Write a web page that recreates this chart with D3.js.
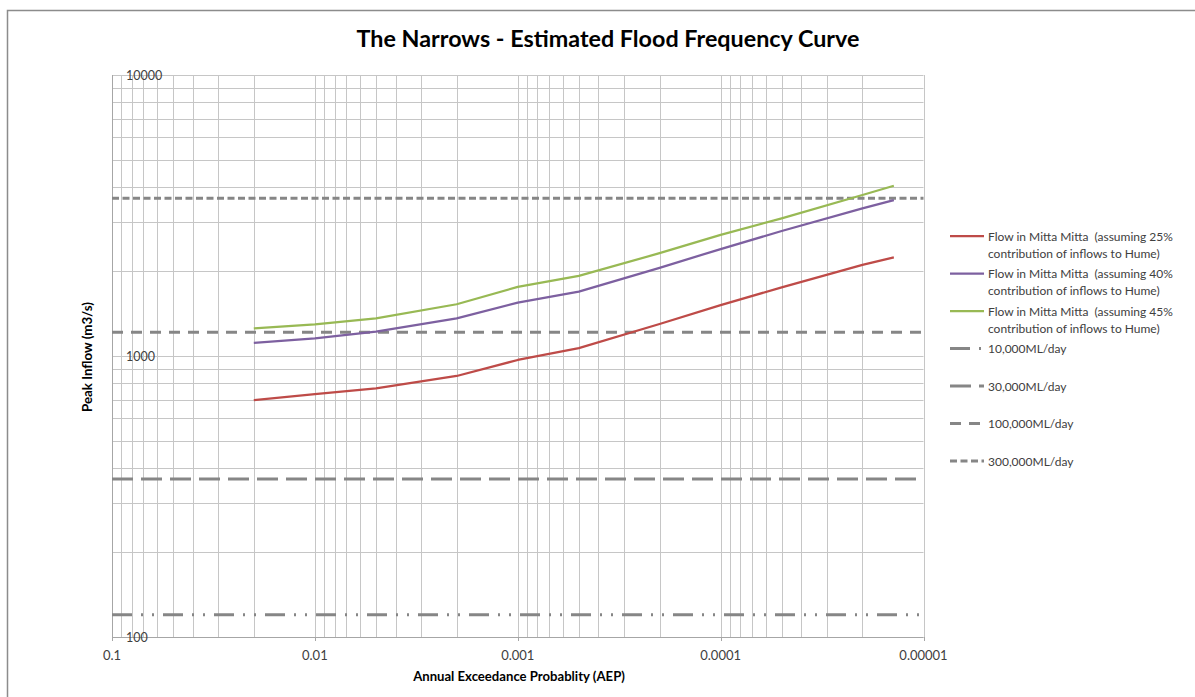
<!DOCTYPE html>
<html><head><meta charset="utf-8">
<script src="https://cdn.jsdelivr.net/npm/d3@7"></script>
<style>
html,body{margin:0;padding:0;background:#fff;}
svg{display:block;}
text{font-family:Lato,"Open Sans",sans-serif;}
</style></head>
<body>
<svg id="chart" width="1195" height="697"></svg>
<script>
// ---- data ----
const aep = [0.02, 0.01, 0.005, 0.002, 0.001, 0.0005, 0.0002, 0.0001, 0.00005, 0.00002, 0.000014];
const flow25 = [697, 731, 767, 849, 968, 1067, 1300, 1517, 1755, 2109, 2245];
const flow40 = [1114, 1155, 1220, 1361, 1548, 1694, 2060, 2402, 2785, 3353, 3589];
const flow45 = [1253, 1297, 1361, 1528, 1762, 1927, 2322, 2697, 3090, 3740, 4035];
const seriesNames = [
  ["Flow in Mitta Mitta  (assuming 25%", "contribution of inflows to Hume)"],
  ["Flow in Mitta Mitta  (assuming 40%", "contribution of inflows to Hume)"],
  ["Flow in Mitta Mitta  (assuming 45%", "contribution of inflows to Hume)"]
];
const refNames = ["10,000ML/day", "30,000ML/day", "100,000ML/day", "300,000ML/day"];
const refValues = [120, 365, 1215, 3640];
const xTicks = [0.1, 0.01, 0.001, 0.0001, 0.00001];
const xTickLabels = ["0.1", "0.01", "0.001", "0.0001", "0.00001"];
const yTicks = [100, 1000, 10000];
const yTickLabels = ["100", "1000", "10000"];

// ---- layout ----
const svg = d3.select("#chart");
const L = 112, R = 923.5, T = 75, B = 637;
const x = d3.scaleLog().domain([0.1, 0.00001]).range([L, R]);
const y = d3.scaleLog().domain([100, 10000]).range([B, T]);

const seriesColors = ["#BE4B48", "#7D60A0", "#98B954"];
const refDash = ["20,9,2,9,2,9", "21,8", "11,8", "7,3.5"];
const refColor = "#868686";

// outer frame
svg.append("path").attr("d", "M7.5,697 V10.5 H1195").attr("fill", "none").attr("stroke", "#8c8c8c").attr("stroke-width", 1.5);

function fit(sel, w) {
  const node = sel.node();
  let fs = parseFloat(sel.attr("font-size"));
  const len = node.getComputedTextLength();
  if (len > 0) sel.attr("font-size", (fs * w / len).toFixed(2));
}

// title
const title = svg.append("text").attr("x", 608).attr("y", 47).attr("text-anchor", "middle")
  .attr("font-size", 20).attr("font-weight", "bold").attr("fill", "#000")
  .text("The Narrows - Estimated Flood Frequency Curve");
fit(title, 503);

// grid
const g = svg.append("g");
const xGrid = [];
for (let e = -5; e <= -1; e++) for (let d = 1; d <= 9; d++) { const v = d * Math.pow(10, e); if (v >= 0.0000099 && v <= 0.1001) xGrid.push(v); }
const yGrid = [];
for (let e = 2; e <= 4; e++) for (let d = 1; d <= 9; d++) { const v = d * Math.pow(10, e); if (v <= 10001) yGrid.push(v); }
g.selectAll("line.vg").data(xGrid).join("line").attr("class", "vg")
  .attr("x1", d => Math.round(x(d)) + 0.5).attr("x2", d => Math.round(x(d)) + 0.5)
  .attr("y1", T).attr("y2", B).attr("stroke", "#c6c6c6").attr("stroke-width", 1);
g.selectAll("line.hg").data(yGrid).join("line").attr("class", "hg")
  .attr("y1", d => Math.round(y(d)) + 0.5).attr("y2", d => Math.round(y(d)) + 0.5)
  .attr("x1", L).attr("x2", R).attr("stroke", "#c6c6c6").attr("stroke-width", 1);

// axes lines
svg.append("line").attr("x1", L + 0.5).attr("x2", L + 0.5).attr("y1", T).attr("y2", B).attr("stroke", "#a6a6a6");
svg.append("line").attr("x1", L).attr("x2", R).attr("y1", B + 0.5).attr("y2", B + 0.5).attr("stroke", "#a6a6a6");
svg.selectAll("line.xt").data(xTicks).join("line").attr("class", "xt")
  .attr("x1", d => Math.round(x(d)) + 0.5).attr("x2", d => Math.round(x(d)) + 0.5)
  .attr("y1", B).attr("y2", B + 4).attr("stroke", "#a6a6a6");

// tick labels
svg.selectAll("text.xl").data(xTicks).join("text").attr("class", "xl")
  .attr("x", d => x(d)).attr("y", 660).attr("text-anchor", "middle")
  .attr("font-size", 13).attr("fill", "#404040").text((d, i) => xTickLabels[i]);
svg.selectAll("text.yl").data(yTicks).join("text").attr("class", "yl")
  .attr("x", 126).attr("y", d => y(d) + 4.5).attr("text-anchor", "start")
  .attr("font-size", 12.5).attr("fill", "#404040").text((d, i) => yTickLabels[i]);

// axis titles
const xt = svg.append("text").attr("x", 519).attr("y", 681).attr("text-anchor", "middle")
  .attr("font-size", 12).attr("font-weight", "bold").attr("fill", "#000")
  .text("Annual Exceedance Probablity  (AEP)");
fit(xt, 212);
const yt = svg.append("text").attr("transform", "translate(92,357) rotate(-90)").attr("text-anchor", "middle")
  .attr("font-size", 12).attr("font-weight", "bold").attr("fill", "#000")
  .text("Peak Inflow (m3/s)");
fit(yt, 110);

// reference lines
svg.selectAll("line.ref").data(refValues).join("line").attr("class", "ref")
  .attr("x1", L).attr("x2", R).attr("y1", d => y(d)).attr("y2", d => y(d))
  .attr("stroke", refColor).attr("stroke-width", 3).attr("stroke-dasharray", (d, i) => refDash[i]);

// series
const line = d3.line().x(d => x(d[0])).y(d => y(d[1]));
[flow25, flow40, flow45].forEach((vals, i) => {
  svg.append("path").datum(aep.map((a, j) => [a, vals[j]]))
    .attr("d", line).attr("fill", "none").attr("stroke", seriesColors[i])
    .attr("stroke-width", 2.25).attr("stroke-linejoin", "round");
});

// legend
const lg = svg.append("g");
const rowY = [236, 273.5, 311, 348.5, 386, 423.5, 461];
const lx0 = 950, lx1 = 984, tx = 988;
seriesNames.forEach((nm, i) => {
  lg.append("line").attr("x1", lx0).attr("x2", lx1).attr("y1", rowY[i]).attr("y2", rowY[i])
    .attr("stroke", seriesColors[i]).attr("stroke-width", 2.25);
  const t = lg.append("text").attr("x", tx).attr("y", rowY[i] + 4.5).attr("font-size", 12).attr("fill", "#404040").attr("xml:space", "preserve");
  t.append("tspan").attr("x", tx).attr("dy", 0).text(nm[0]);
  t.append("tspan").attr("x", tx).attr("dy", 17).text(nm[1]);
});
refNames.forEach((nm, k) => {
  const yy = rowY[3 + k];
  lg.append("line").attr("x1", lx0).attr("x2", lx1).attr("y1", yy).attr("y2", yy)
    .attr("stroke", refColor).attr("stroke-width", 3).attr("stroke-dasharray", refDash[k]);
  lg.append("text").attr("x", tx).attr("y", yy + 4.5).attr("font-size", 12).attr("fill", "#404040").text(nm);
});
</script>
</body></html>
